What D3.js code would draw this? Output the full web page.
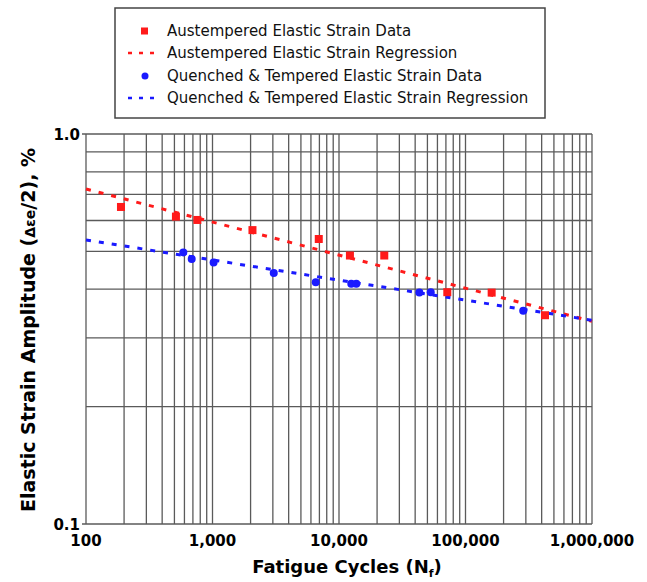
<!DOCTYPE html>
<html>
<head>
<meta charset="utf-8">
<script src="https://cdn.jsdelivr.net/npm/d3@7"></script>
<style>
  body { margin: 0; background: #fff; }
  text { font-family: "DejaVu Sans", Verdana, sans-serif; }
</style>
</head>
<body>
<div id="chart"></div>
<script>
// austempered data (cycles, strain amplitude %)
const austCycles = [189, 514, 759, 2070, 6920, 12200, 22800, 71800, 161000, 425000];
const austStrain = [0.650, 0.614, 0.602, 0.567, 0.538, 0.488, 0.488, 0.393, 0.392, 0.343];

// quenched & tempered data
const qtCycles = [588, 685, 1020, 3050, 6550, 12500, 13700, 43200, 53100, 286000];
const qtStrain = [0.497, 0.478, 0.468, 0.440, 0.417, 0.413, 0.413, 0.392, 0.393, 0.352];

// regression endpoints (straight on log-log)
const regCycles = [100, 1000000];
const austRegStrain = [0.723, 0.331];
const qtRegStrain = [0.535, 0.333];

const xTicks = [100, 1000, 10000, 100000, 1000000];
const yTicks = [0.1, 1.0];

const legendLabels = [
    "Austempered Elastic Strain Data",
    "Austempered Elastic Strain Regression",
    "Quenched & Tempered Elastic Strain Data",
    "Quenched & Tempered Elastic Strain Regression"
];

const WIDTH = 647, HEIGHT = 582;
const PLOT = { LEFT: 86, RIGHT: 592, TOP: 134, BOTTOM: 524 };
const RED = "#ff1a1a", BLUE = "#1a1aff", GRID = "#5a5a5a";

const svg = d3.select("#chart").append("svg")
    .attr("width", WIDTH)
    .attr("height", HEIGHT);

const x = d3.scaleLog().domain([100, 1000000]).range([PLOT.LEFT, PLOT.RIGHT]);
const y = d3.scaleLog().domain([0.1, 1.0]).range([PLOT.BOTTOM, PLOT.TOP]);

// grid: every 1..9 step within each decade
const xGrid = x.ticks();
const yGrid = y.ticks();

svg.append("g").selectAll("line.vg")
    .data(xGrid)
    .enter().append("line")
    .attr("x1", d => x(d)).attr("x2", d => x(d))
    .attr("y1", PLOT.TOP).attr("y2", PLOT.BOTTOM)
    .attr("stroke", GRID).attr("stroke-width", 1.3);

svg.append("g").selectAll("line.hg")
    .data(yGrid)
    .enter().append("line")
    .attr("x1", d => yTicks.includes(+d.toFixed(2)) ? PLOT.LEFT - 4 : PLOT.LEFT)
    .attr("x2", PLOT.RIGHT)
    .attr("y1", d => y(d)).attr("y2", d => y(d))
    .attr("stroke", GRID).attr("stroke-width", 1.3);

// tick labels
svg.append("g").selectAll("text")
    .data(yTicks)
    .enter().append("text")
    .attr("x", PLOT.LEFT - 6)
    .attr("y", d => y(d) + 6)
    .attr("text-anchor", "end")
    .attr("font-size", 15)
    .attr("font-weight", "bold")
    .text(d => d.toFixed(1));

svg.append("g").selectAll("text")
    .data(xTicks)
    .enter().append("text")
    .attr("x", d => x(d))
    .attr("y", PLOT.BOTTOM + 22)
    .attr("text-anchor", "middle")
    .attr("font-size", 15)
    .attr("font-weight", "bold")
    .text(d => d3.format(",")(d));

// axis titles
const xt = svg.append("text")
    .attr("x", 347).attr("y", 573)
    .attr("text-anchor", "middle")
    .attr("font-size", 18)
    .attr("font-weight", "bold")
    .text("Fatigue Cycles (N");
xt.append("tspan").attr("font-size", 11).attr("dy", 4).text("f");
xt.append("tspan").attr("dy", -4).text(")");

const yt = svg.append("text")
    .attr("transform", "translate(35, 330) rotate(-90)")
    .attr("text-anchor", "middle")
    .attr("font-size", 19)
    .attr("font-weight", "bold")
    .text("Elastic Strain Amplitude (");
yt.append("tspan").attr("font-size", 14).text("Δεe");
yt.append("tspan").text("/2), %");

// regression lines
const line = d3.line().x(d => x(d[0])).y(d => y(d[1]));

svg.append("path")
    .datum(d3.zip(regCycles, austRegStrain))
    .attr("d", line)
    .attr("fill", "none")
    .attr("stroke", RED)
    .attr("stroke-width", 3)
    .attr("stroke-dasharray", "5,8");

svg.append("path")
    .datum(d3.zip(regCycles, qtRegStrain))
    .attr("d", line)
    .attr("fill", "none")
    .attr("stroke", BLUE)
    .attr("stroke-width", 3)
    .attr("stroke-dasharray", "5,8");

// data markers
svg.append("g").selectAll("rect")
    .data(d3.zip(austCycles, austStrain))
    .enter().append("rect")
    .attr("x", d => x(d[0]) - 4)
    .attr("y", d => y(d[1]) - 4)
    .attr("width", 8).attr("height", 8)
    .attr("fill", RED);

svg.append("g").selectAll("circle")
    .data(d3.zip(qtCycles, qtStrain))
    .enter().append("circle")
    .attr("cx", d => x(d[0]))
    .attr("cy", d => y(d[1]))
    .attr("r", 4)
    .attr("fill", BLUE);

// legend
const legend = svg.append("g");
legend.append("rect")
    .attr("x", 115).attr("y", 8)
    .attr("width", 430).attr("height", 110)
    .attr("fill", "#fff")
    .attr("stroke", "#444")
    .attr("stroke-width", 1.5);

const rowY = [31, 53, 76, 98];
legendLabels.forEach((lab, i) => {
    const ry = rowY[i];
    const col = i < 2 ? RED : BLUE;
    if (i % 2 === 0) {
        if (i === 0) {
            legend.append("rect").attr("x", 141).attr("y", ry - 3.5)
                .attr("width", 7).attr("height", 7).attr("fill", col);
        } else {
            legend.append("circle").attr("cx", 145).attr("cy", ry).attr("r", 3.5).attr("fill", col);
        }
    } else {
        legend.append("line")
            .attr("x1", 128).attr("x2", 160)
            .attr("y1", ry).attr("y2", ry)
            .attr("stroke", col).attr("stroke-width", 2.5)
            .attr("stroke-dasharray", "4,7");
    }
    legend.append("text")
        .attr("x", 167).attr("y", ry + 5)
        .attr("font-size", 15)
        .attr("fill", "#111")
        .text(lab);
});
</script>
</body>
</html>
